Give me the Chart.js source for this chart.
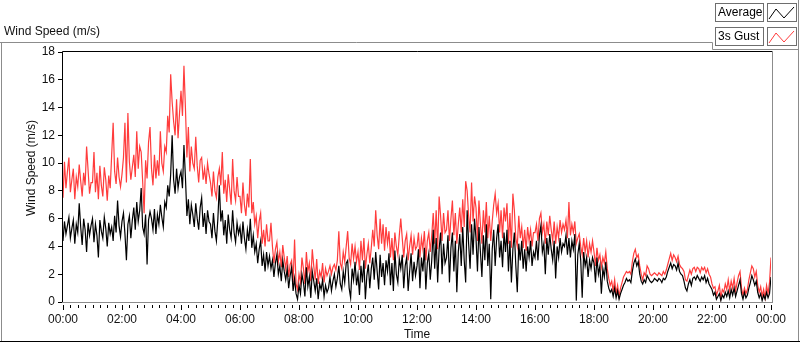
<!DOCTYPE html>
<html>
<head>
<meta charset="utf-8">
<script src="https://cdn.jsdelivr.net/npm/chart.js@4.4.1/dist/chart.umd.min.js"></script>
<style>
  html, body { margin: 0; padding: 0; background: #fff; }
  #wrap { width: 800px; height: 342px; }
</style>
</head>
<body>
<div id="wrap"><canvas id="windChart" width="800" height="342"></canvas></div>
<script>
// one sample every 3 minutes, 00:00 .. 24:00 (one row per hour)
const sampleMinutes = 3;

const averageSpeed = [
  4.4, 5.8, 4.9, 5.5, 6.1, 4.6, 5.3, 5.9, 4.2, 5.6, 5.0, 7.1, 5.4, 4.1, 6.0, 5.2, 3.6, 5.7, 4.8, 5.5,
  6.0, 4.3, 5.6, 4.8, 3.2, 5.9, 5.1, 4.6, 6.1, 5.3, 4.0, 5.7, 4.9, 5.4, 4.4, 6.2, 5.0, 7.3, 5.5, 4.7,
  5.8, 6.4, 4.9, 3.0, 5.6, 6.2, 4.6, 5.9, 6.8, 5.2, 7.2, 5.8, 6.6, 8.2, 5.4, 4.9, 6.3, 2.7, 5.9, 6.5,
  6.0, 5.2, 6.7, 4.9, 6.3, 5.6, 7.0, 6.1, 5.4, 7.2, 6.8, 8.4, 7.6, 9.2, 12.0, 8.8, 7.8, 9.6, 8.2, 9.0,
  9.4, 8.2, 11.3, 9.0, 6.2, 7.4, 5.6, 7.0, 6.3, 5.4, 7.1, 6.0, 5.2, 6.8, 7.5, 5.4, 6.4, 4.9, 6.6, 5.8,
  5.6, 4.6, 6.4, 5.1, 4.4, 6.0, 8.4, 5.8, 6.6, 4.8, 5.9, 4.2, 6.3, 5.2, 4.6, 6.6, 5.0, 4.3, 5.7, 4.9,
  5.4, 4.2, 5.8, 4.6, 3.8, 5.2, 4.4, 6.0, 3.9, 4.8, 3.6, 4.2, 2.8, 3.8, 4.4, 2.6, 3.4, 2.2, 3.6, 2.6,
  3.3, 2.4, 3.0, 1.8, 2.8, 3.4, 2.0, 2.6, 1.5, 3.0, 2.2, 1.6, 2.4, 1.0, 1.9, 2.5, 0.8, 1.7, 0.6, 0.2,
  1.2, 0.6, 2.0, 1.4, 0.4, 2.5, 1.1, 1.8, 0.3, 2.2, 1.5, 0.8, 1.7, 0.2, 1.3, 0.9, 1.6, 0.4, 1.2, 0.7,
  1.0, 1.8, 0.8, 1.5, 2.0, 1.1, 1.7, 2.6, 1.3, 0.9, 2.2, 1.4, 2.8, 3.0, 1.0, 0.3, 2.4, 1.6, 2.9, 1.2,
  2.0, 0.5, 2.6, 1.4, 3.0, 0.2, 1.9, 2.7, 1.0, 2.4, 3.2, 1.6, 3.6, 2.2, 0.9, 3.4, 1.8, 2.8, 1.2, 3.0,
  2.2, 3.5, 1.2, 2.8, 0.8, 3.7, 2.0, 1.4, 3.1, 2.4, 3.4, 1.0, 2.6, 3.2, 0.8, 2.2, 3.5, 1.5, 2.9, 1.9,
  2.6, 3.8, 1.0, 3.2, 2.2, 3.9, 0.9, 2.8, 3.5, 1.6, 3.0, 5.2, 2.4, 4.6, 1.4, 3.8, 5.0, 2.0, 4.2, 2.8,
  3.2, 4.8, 1.4, 3.9, 5.0, 2.2, 4.4, 0.7, 3.6, 4.9, 2.6, 5.4, 3.0, 1.4, 6.6, 4.2, 2.4, 5.6, 3.4, 6.0,
  4.6, 2.2, 5.4, 3.6, 1.8, 4.8, 3.0, 5.6, 2.6, 4.2, 0.2, 3.8, 5.2, 2.6, 4.6, 5.6, 3.2, 4.4, 2.5, 5.0,
  3.6, 5.2, 2.2, 4.4, 1.4, 3.8, 5.0, 2.6, 0.7, 4.2, 3.0, 4.4, 2.4, 3.8, 2.2, 4.0, 3.2, 4.4, 2.6, 3.6,
  3.2, 4.4, 3.0, 4.8, 5.5, 3.6, 4.2, 2.0, 4.6, 3.4, 4.9, 3.8, 3.0, 4.4, 1.7, 4.0, 3.2, 4.6, 3.6, 4.2,
  4.0, 4.8, 3.4, 4.6, 3.2, 4.4, 3.8, 4.9, 0.1, 3.4, 4.2, 3.0, 0.3, 3.6, 2.6, 3.2, 1.8, 3.0, 2.4, 3.2,
  2.8, 1.4, 3.2, 2.0, 2.6, 0.6, 2.4, 1.8, 2.9, 1.5, 1.0, 0.7, 0.9, 0.4, 1.0, 0.3, 0.8, 0.2, 0.6, 0.9,
  1.2, 1.4, 1.7, 1.5, 1.6, 1.4, 2.2, 2.8, 3.1, 2.6, 2.9, 2.0, 1.5, 1.3, 1.6, 1.4, 1.9, 1.7, 1.5, 1.4,
  1.5, 1.7, 1.6, 1.5, 1.7, 1.6, 1.4, 1.7, 1.6, 1.8, 2.2, 2.5, 2.8, 2.4, 2.7, 2.6, 2.3, 2.8, 2.2, 2.0,
  1.9, 1.5, 1.0, 0.8, 1.3, 1.6, 1.2, 1.7, 1.8, 1.6, 1.9, 1.7, 1.5, 1.8, 1.6, 1.9, 1.4, 1.7, 1.3, 1.1,
  0.9, 0.5, 0.7, 0.2, 0.4, 0.6, 0.1, 0.5, 0.3, 0.7, 0.4, 0.8, 0.3, 0.9, 0.5, 1.0, 0.4, 0.8, 1.2, 1.6,
  0.6, 0.2, 0.7, 0.3, 0.5, 1.0, 1.4, 1.9, 1.6, 1.2, 1.5, 0.7, 0.3, 0.6, 0.1, 0.5, 0.2, 0.7, 0.3, 0.6,
  1.8
];

const gustSpeed = [
  7.5, 10.1, 8.2, 9.4, 10.4, 7.9, 8.8, 9.6, 7.4, 9.0, 8.3, 9.9, 8.7, 7.6, 9.3, 8.4, 11.2, 9.5, 7.8, 8.6,
  8.6, 10.8, 7.9, 9.3, 7.4, 9.8, 8.4, 7.6, 9.7, 8.8, 7.3, 9.1, 8.2, 10.6, 12.9, 9.4, 8.5, 10.4, 9.0, 8.3,
  9.2, 10.4, 12.9, 8.6, 13.6, 10.1, 8.8, 9.7, 10.6, 9.0, 12.3, 9.6, 11.2, 10.8, 8.7, 6.4, 10.2, 8.9, 11.5, 12.6,
  9.6, 8.4, 10.6, 8.9, 10.2, 9.1, 12.3, 10.0, 9.4, 11.2, 10.8, 13.4, 12.2, 16.4, 14.4, 13.0, 12.0, 14.6, 11.8, 13.6,
  15.2, 13.4, 17.0, 14.0, 10.4, 12.6, 9.4, 11.2, 10.0, 9.6, 11.9, 9.8, 8.6, 10.2, 10.4, 8.8, 9.6, 8.5, 10.0, 9.2,
  8.6, 7.6, 9.4, 8.0, 7.5, 9.0, 9.6, 8.4, 10.8, 7.8, 8.8, 7.2, 9.2, 8.1, 7.0, 10.3, 8.0, 7.3, 9.0, 7.6,
  7.6, 6.4, 8.6, 7.0, 6.2, 7.8, 6.8, 10.3, 6.4, 7.2, 5.6, 6.2, 4.6, 5.8, 6.4, 4.2, 5.2, 4.0, 5.6, 4.4,
  4.4, 5.7, 4.0, 2.8, 3.8, 4.3, 2.9, 3.6, 2.5, 4.1, 3.2, 2.4, 3.3, 1.8, 2.7, 3.0, 1.4, 4.5, 1.3, 0.9,
  2.0, 1.4, 3.2, 2.4, 1.3, 3.6, 2.2, 2.8, 1.5, 3.8, 2.6, 1.6, 3.1, 1.3, 2.2, 1.8, 2.8, 1.4, 2.4, 1.9,
  2.2, 2.6, 2.0, 2.5, 2.7, 2.3, 3.0, 5.1, 2.8, 2.4, 3.6, 2.9, 4.0, 5.1, 3.2, 2.7, 4.2, 3.1, 4.0, 2.9,
  3.6, 2.3, 4.4, 3.0, 4.6, 2.4, 3.4, 4.2, 2.8, 3.9, 5.2, 4.0, 6.6, 4.8, 3.8, 6.0, 4.2, 5.6, 3.7, 5.4,
  4.2, 5.1, 3.2, 4.6, 3.0, 5.0, 4.0, 3.4, 4.8, 6.0, 4.6, 3.2, 4.4, 4.9, 3.0, 4.0, 4.8, 3.4, 4.6, 3.8,
  4.0, 5.0, 3.2, 4.6, 3.8, 5.1, 3.0, 4.4, 5.0, 3.6, 4.8, 6.4, 4.2, 6.6, 3.8, 7.6, 6.2, 4.4, 6.4, 5.0,
  5.2, 6.6, 4.4, 6.0, 7.3, 4.8, 6.4, 4.2, 5.6, 6.8, 5.0, 7.4, 5.4, 8.7, 8.0, 6.2, 5.0, 8.6, 5.8, 7.6,
  6.8, 4.4, 7.3, 5.6, 4.2, 6.6, 5.0, 7.2, 4.6, 6.2, 4.4, 5.8, 7.0, 7.8, 6.4, 7.1, 5.0, 6.6, 4.6, 6.8,
  5.8, 7.1, 4.2, 6.4, 3.9, 7.8, 6.6, 4.6, 4.0, 6.2, 4.6, 5.4, 3.9, 5.2, 3.7, 5.4, 4.4, 5.2, 4.0, 5.0,
  5.0, 5.6, 4.4, 6.0, 6.4, 5.0, 5.6, 4.2, 5.8, 4.8, 6.2, 5.2, 4.4, 5.8, 4.2, 5.4, 4.6, 5.9, 5.0, 5.6,
  5.2, 5.9, 4.6, 7.2, 4.8, 5.6, 5.0, 5.8, 4.2, 4.6, 4.9, 4.0, 3.4, 4.6, 3.6, 4.4, 3.2, 4.2, 3.6, 4.4,
  3.6, 2.6, 3.9, 3.0, 3.4, 2.5, 3.2, 2.8, 3.6, 2.4, 1.7, 1.2, 1.5, 0.8, 1.6, 0.6, 1.2, 0.4, 1.0, 1.4,
  1.8, 2.0, 2.2, 2.1, 2.2, 2.0, 2.9, 3.5, 3.8, 3.2, 3.4, 2.6, 2.0, 1.6, 2.1, 1.9, 2.6, 2.4, 2.0, 1.9,
  2.0, 2.1, 2.0, 1.9, 2.1, 2.0, 1.9, 2.2, 2.0, 2.3, 2.7, 3.1, 3.5, 3.0, 3.4, 3.2, 2.9, 3.3, 2.7, 2.5,
  2.4, 2.2, 1.6, 1.5, 1.9, 2.3, 2.0, 2.4, 2.5, 2.2, 2.5, 2.4, 2.1, 2.5, 2.3, 2.5, 2.1, 2.4, 2.0, 1.8,
  1.3, 1.0, 1.1, 0.5, 0.8, 1.2, 0.3, 0.9, 0.7, 1.3, 0.9, 1.6, 0.8, 1.5, 1.0, 1.7, 0.8, 1.4, 1.9, 2.2,
  1.0, 0.5, 1.0, 0.6, 0.9, 1.6, 2.1, 2.6, 2.4, 1.8, 2.2, 1.2, 0.7, 1.1, 0.4, 0.9, 0.3, 1.2, 0.6, 1.4,
  3.2
];

const seriesNames = ['Average', '3s Gust'];
const seriesColors = ['#000000', '#ff3c3c'];
const chartTitle = 'Wind Speed (m/s)';
const xTitle = 'Time';
const yTitle = 'Wind Speed (m/s)';

const FONT = "'Liberation Sans', Arial, sans-serif";
const GREY = '#8c8c8c';

function toPoints(values) {
  return values.map((v, i) => ({ x: i * sampleMinutes, y: v }));
}

function hhmm(min) {
  const h = Math.floor(min / 60) % 24;
  const m = min % 60;
  return String(h).padStart(2, '0') + ':' + String(m).padStart(2, '0');
}

// outer panel, captions, plot box, minor ticks and the legend boxes
const panelPlugin = {
  id: 'panel',
  beforeDraw(chart) {
    const c = chart.ctx;
    c.save();
    c.fillStyle = '#fff';
    c.fillRect(0, 0, chart.width, chart.height);
    c.restore();
  },
  afterDraw(chart) {
    const c = chart.ctx;
    const a = chart.chartArea;
    const xs = chart.scales.x;
    c.save();
    c.lineWidth = 1;

    // outer frame
    c.strokeStyle = GREY;
    c.beginPath();
    c.moveTo(0, 42.5); c.lineTo(712.5, 42.5); c.lineTo(712.5, 49.5); c.lineTo(798.5, 49.5);
    c.moveTo(1.5, 42.5); c.lineTo(1.5, 341);
    c.moveTo(798.5, 0); c.lineTo(798.5, 341);
    c.stroke();
    c.strokeStyle = '#000';
    c.beginPath();
    c.moveTo(0, 341.5); c.lineTo(800, 341.5);
    c.stroke();

    // captions
    c.fillStyle = '#111';
    c.font = '12px ' + FONT;
    c.textBaseline = 'middle';
    c.textAlign = 'left';
    c.fillText(chartTitle, 4, 32);

    c.save();
    c.translate(32, 168);
    c.rotate(-Math.PI / 2);
    c.textAlign = 'center';
    c.fillText(yTitle, 0, 0);
    c.restore();

    // plot box
    c.strokeStyle = '#000';
    c.beginPath();
    c.moveTo(a.left - 0.5, a.bottom); c.lineTo(a.left - 0.5, a.top - 0.5); c.lineTo(a.right + 1, a.top - 0.5);
    c.stroke();
    c.strokeStyle = GREY;
    c.beginPath();
    c.moveTo(a.right + 1.5, a.top - 1); c.lineTo(a.right + 1.5, a.bottom + 0.5);
    c.moveTo(a.left - 1, a.bottom + 0.5); c.lineTo(a.right + 2, a.bottom + 0.5);
    c.stroke();

    // x ticks: minor every 15 min, major every 2 h
    c.strokeStyle = '#000';
    c.beginPath();
    for (let m = 0; m <= 1440; m += 15) {
      const px = Math.round(xs.getPixelForValue(m)) + 0.5;
      const major = m % 120 === 0;
      c.moveTo(px, a.bottom + 3);
      c.lineTo(px, a.bottom + (major ? 8 : 6));
    }
    c.stroke();

    // legend
    chart.data.datasets.forEach((ds, i) => {
      const top = 3 + i * 24;
      c.fillStyle = '#fff';
      c.fillRect(715, top, 48, 18);
      c.fillRect(767, top, 29, 18);
      c.strokeStyle = '#6e6e6e';
      c.strokeRect(715.5, top + 0.5, 48, 18);
      c.strokeRect(767.5, top + 0.5, 29, 18);
      c.fillStyle = '#000';
      c.font = '12px ' + FONT;
      c.textAlign = 'left';
      c.fillText(ds.label, 718, top + 10);
      c.strokeStyle = ds.borderColor;
      c.beginPath();
      c.moveTo(769, top + 16);
      c.lineTo(776, top + 6);
      c.lineTo(784, top + 15);
      c.lineTo(794, top + 4);
      c.stroke();
    });
    c.restore();
  }
};

const ctx = document.getElementById('windChart');
new Chart(ctx, {
  type: 'line',
  data: {
    datasets: [
      { label: seriesNames[0], data: toPoints(averageSpeed), borderColor: seriesColors[0], borderWidth: 1.2 },
      { label: seriesNames[1], data: toPoints(gustSpeed), borderColor: seriesColors[1], borderWidth: 1.2 }
    ]
  },
  options: {
    responsive: false,
    animation: false,
    devicePixelRatio: 1,
    elements: { point: { radius: 0 }, line: { tension: 0 } },
    layout: { padding: { left: 0, top: 52, right: 29, bottom: 0 } },
    plugins: { legend: { display: false }, tooltip: { enabled: false } },
    scales: {
      x: {
        type: 'linear',
        min: 0,
        max: 1440,
        afterFit: (s) => { s.height = 40; },
        grid: { display: false },
        border: { display: false },
        ticks: {
          stepSize: 120,
          autoSkip: false,
          maxRotation: 0,
          padding: 2,
          color: '#111',
          font: { family: FONT, size: 12 },
          callback: (v) => hhmm(v)
        },
        title: { display: true, text: xTitle, color: '#111', font: { family: FONT, size: 12 }, padding: { top: 1, bottom: 0 } }
      },
      y: {
        min: 0,
        max: 18,
        afterFit: (s) => { s.width = 63; },
        grid: { drawOnChartArea: false, tickLength: 5, tickColor: '#000' },
        border: { display: false },
        ticks: {
          stepSize: 2,
          padding: 3,
          color: '#111',
          font: { family: FONT, size: 12 }
        },
        title: { display: false }
      }
    }
  },
  plugins: [panelPlugin]
});
</script>
</body>
</html>
